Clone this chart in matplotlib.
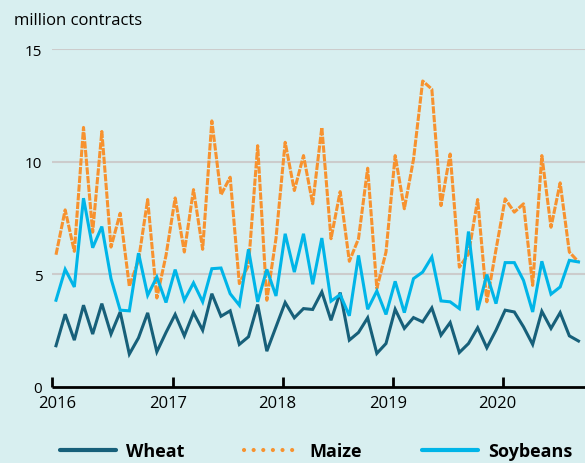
import numpy as np
import matplotlib
matplotlib.use('Agg')
from matplotlib import pyplot as plt
from matplotlib.lines import Line2D

# monthly open interest, Jan 2016 - Oct 2020 (million contracts)
wheat = [1.83, 3.23, 2.08, 3.63, 2.35, 3.70, 2.35, 3.33, 1.46, 2.18, 3.29, 1.56,
         2.42, 3.22, 2.27, 3.30, 2.52, 4.14, 3.14, 3.38, 1.89, 2.23, 3.66, 1.59,
         2.67, 3.75, 3.07, 3.48, 3.44, 4.22, 2.96, 4.19, 2.08, 2.42, 3.07, 1.49,
         1.93, 3.45, 2.60, 3.08, 2.89, 3.51, 2.30, 2.86, 1.53, 1.93, 2.63, 1.74,
         2.52, 3.41, 3.33, 2.67, 1.89, 3.36, 2.60, 3.30, 2.27, 2.04]
maize = [5.87, 7.86, 6.02, 11.52, 6.87, 11.34, 6.21, 7.71, 4.47, 5.62, 8.32, 3.95,
         5.84, 8.39, 5.99, 8.76, 6.11, 11.81, 8.53, 9.31, 4.59, 5.40, 10.71, 3.85,
         6.60, 10.86, 8.72, 10.27, 8.13, 11.52, 6.58, 8.67, 5.58, 6.58, 9.71, 4.37,
         5.99, 10.27, 7.91, 10.10, 13.58, 13.22, 8.05, 10.34, 5.32, 5.90, 8.32, 3.78,
         6.10, 8.35, 7.76, 8.13, 4.51, 10.27, 7.09, 9.06, 5.99, 5.55]
soybeans = [3.85, 5.22, 4.44, 8.38, 6.18, 7.12, 4.81, 3.41, 3.38, 5.94, 4.07, 4.88,
            3.75, 5.21, 3.85, 4.62, 3.78, 5.25, 5.28, 4.14, 3.63, 6.11, 3.78, 5.22,
            4.04, 6.80, 5.10, 6.80, 4.56, 6.61, 3.81, 4.10, 3.16, 5.84, 3.45, 4.26,
            3.22, 4.69, 3.30, 4.81, 5.10, 5.77, 3.82, 3.78, 3.48, 6.90, 3.41, 4.99,
            3.70, 5.52, 5.52, 4.73, 3.33, 5.58, 4.12, 4.44, 5.62, 5.55]
years = [2016, 2017, 2018, 2019, 2020]
yticks = [0, 5, 10, 15]

t = 2016 + np.arange(len(wheat)) / 12

bg = '#d8eff0'
c_wheat = '#17607a'
c_maize = '#f7922f'
c_soy = '#00b5e8'

plt.rcParams['font.family'] = ['Open Sans', 'DejaVu Sans']

fig = plt.figure(figsize=(5.85, 4.64), dpi=100, facecolor=bg)
ax = fig.add_axes([52 / 585, 1 - 388 / 464, 1 - 52 / 585, 338 / 464])
ax.set_facecolor(bg)

ax.plot(t, wheat, color=c_wheat, lw=2.2, solid_joinstyle='miter')
ax.plot(t, maize, color=c_maize, lw=2.2, linestyle=(0, (2.4, 0.45)))
ax.plot(t, soybeans, color=c_soy, lw=2.2, solid_joinstyle='miter')

ax.set_ylim(0, 15)
ax.set_xlim(2016 - 4 / 110, 2016 + 529 / 110)

for v in yticks[1:]:
    ax.axhline(v, color='#cccccc', lw=1.5, zorder=0)

for s in ['top', 'right', 'left']:
    ax.spines[s].set_visible(False)
ax.spines['bottom'].set_linewidth(2)
ax.spines['bottom'].set_capstyle('butt')

ax.set_yticks(yticks)
ax.tick_params(axis='y', length=0, pad=7, labelsize=11)

ax.set_xticks([y + 0.015 for y in years])
ax.set_xticklabels([str(y) for y in years])
ax.tick_params(axis='x', which='major', length=0, pad=6, labelsize=12)
ax.set_xticks([2016 - 4 / 110] + [y + 0.06 for y in years[1:]], minor=True)
ax.tick_params(axis='x', which='minor', direction='in', length=7, width=2)

fig.text(14 / 585, 1 - 21 / 464, 'million contracts', fontsize=12,
         ha='left', va='center')

handles = [
    Line2D([], [], color=c_wheat, lw=3, solid_capstyle='round'),
    Line2D([], [], color=c_maize, lw=3, linestyle=(0, (0.01, 2.3)),
           dash_capstyle='round'),
    Line2D([], [], color=c_soy, lw=3, solid_capstyle='round'),
]
leg = fig.legend(handles, ['Wheat', 'Maize', 'Soybeans'], loc='center',
                 bbox_to_anchor=(316 / 585, 1 - 452 / 464), ncol=3,
                 frameon=False, handlelength=3.1, handletextpad=0.55,
                 columnspacing=3.3, prop={'weight': 'bold', 'size': 13})

fig.savefig('out.png', dpi=100, facecolor=bg)
